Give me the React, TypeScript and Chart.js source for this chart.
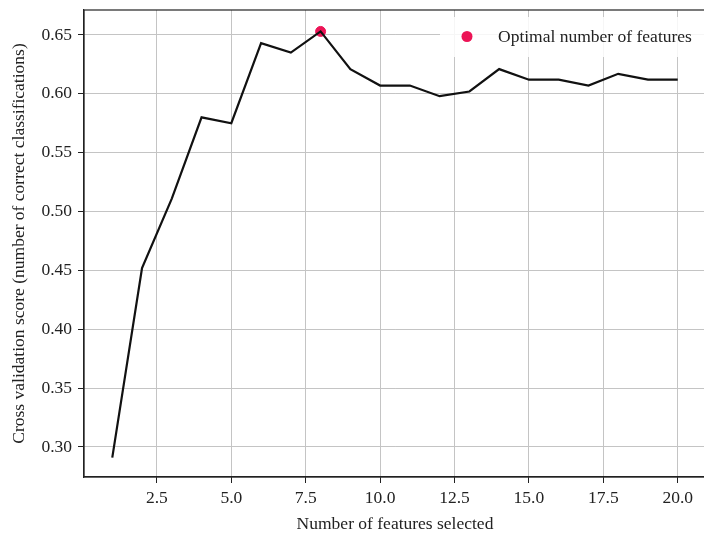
import React, { useEffect, useRef } from "react";
import { Chart, registerables } from "chart.js";

Chart.register(...registerables);

const featureCounts = [1, 2, 3, 4, 5, 6, 7, 8, 9, 10, 11, 12, 13, 14, 15, 16, 17, 18, 19, 20];
const cvScores = [0.291, 0.452, 0.511, 0.580, 0.575, 0.643, 0.635, 0.653, 0.621, 0.607, 0.607, 0.598, 0.602, 0.621, 0.612, 0.612, 0.607, 0.617, 0.612, 0.612];
const xTicks = [2.5, 5.0, 7.5, 10.0, 12.5, 15.0, 17.5, 20.0];
const yTicks = [0.30, 0.35, 0.40, 0.45, 0.50, 0.55, 0.60, 0.65];
const legendLabel = "Optimal number of features";
const xTitle = "Number of features selected";
const yTitle = "Cross validation score (number of correct classifications)";

const FONT = "'Liberation Serif', 'Times New Roman', serif";
const FS = 17.5;
const RED = "#ec1456";

export default function App() {
  const ref = useRef<HTMLCanvasElement | null>(null);
  useEffect(() => {
    if (!ref.current) return;
    let best = 0;
    cvScores.forEach((v, i) => { if (v > cvScores[best]) best = i; });

    const frame = {
      id: "frame",
      afterDraw(chart: any) {
        const { ctx, chartArea: a } = chart;
        ctx.save();
        ctx.strokeStyle = "#222";
        ctx.lineWidth = 1.2;
        ctx.strokeRect(a.left, a.top, a.right - a.left, a.bottom - a.top);
        // legend
        ctx.fillStyle = "rgba(255,255,255,0.85)";
        ctx.fillRect(440, 17, 300, 40);
        ctx.beginPath();
        ctx.arc(467, 36.5, 5.5, 0, Math.PI * 2);
        ctx.fillStyle = RED;
        ctx.fill();
        ctx.fillStyle = "#222";
        ctx.font = `${FS}px ${FONT}`;
        ctx.textBaseline = "middle";
        ctx.fillText(legendLabel, 498, 37);
        ctx.restore();
      },
    };

    const chart = new Chart(ref.current, {
      type: "line",
      data: {
        datasets: [
          {
            type: "line",
            data: featureCounts.map((x, i) => ({ x, y: cvScores[i] })),
            borderColor: "#111",
            borderWidth: 2.2,
            pointRadius: 0,
            tension: 0,
            order: 1,
          },
          {
            type: "scatter",
            data: [{ x: featureCounts[best], y: cvScores[best] }],
            backgroundColor: RED,
            borderColor: RED,
            pointRadius: 5,
            order: 2,
          } as any,
        ],
      },
      options: {
        animation: false,
        responsive: false,
        layout: { padding: { left: 0, top: 10, right: 0, bottom: 0 } },
        plugins: { legend: { display: false }, tooltip: { enabled: false } },
        scales: {
          x: {
            type: "linear",
            min: 0.05,
            max: 20.95,
            afterBuildTicks: (s: any) => { s.ticks = xTicks.map((v) => ({ value: v })); },
            afterFit: (s: any) => { s.height = 58; s.paddingLeft = 0; s.paddingRight = 0; },
            ticks: { color: "#222", font: { family: FONT, size: FS }, padding: 5, maxRotation: 0, callback: (v: any) => Number(v).toFixed(1) },
            grid: { color: "#c4c4c4", tickColor: "#222", tickLength: 6, lineWidth: 1 },
            border: { display: true, color: "#222", width: 1.2 },
            title: { display: true, text: xTitle, color: "#222", font: { family: FONT, size: FS }, padding: { top: 0, bottom: 0 } },
          },
          y: {
            type: "linear",
            min: 0.2745,
            max: 0.6712,
            afterBuildTicks: (s: any) => { s.ticks = yTicks.map((v) => ({ value: v })); },
            afterFit: (s: any) => { s.width = 84; s.paddingTop = 0; s.paddingBottom = 0; },
            ticks: { color: "#222", font: { family: FONT, size: FS }, padding: 6, callback: (v: any) => Number(v).toFixed(2) },
            grid: { color: "#c4c4c4", tickColor: "#222", tickLength: 6, lineWidth: 1 },
            border: { display: true, color: "#222", width: 1.2 },
            title: { display: true, text: yTitle, color: "#222", font: { family: FONT, size: FS }, padding: { top: 9, bottom: 0 } },
          },
        },
      },
      plugins: [frame],
    });
    return () => chart.destroy();
  }, []);

  return (
    <div style={{ position: "fixed", left: 0, top: 0, width: 704, height: 535, overflow: "hidden", background: "#fff" }}>
      <canvas ref={ref} width={712} height={535} style={{ display: "block", width: 712, height: 535 }} />
    </div>
  );
}
